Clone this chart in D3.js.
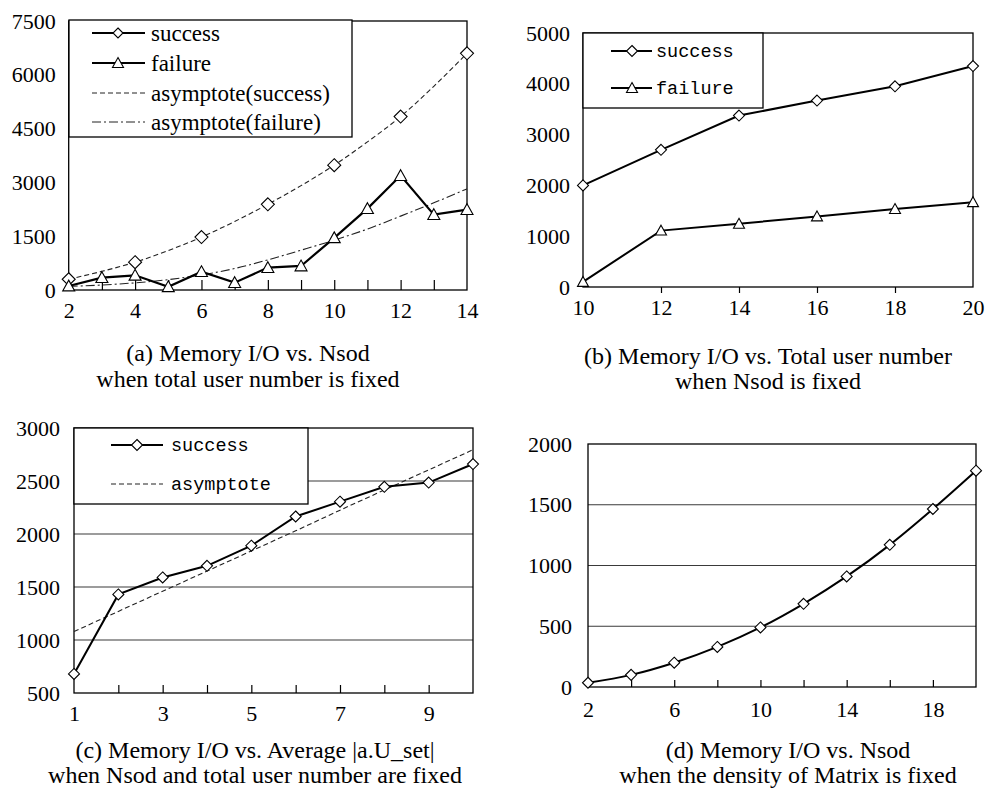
<!DOCTYPE html>
<html><head><meta charset="utf-8">
<script src="https://cdn.jsdelivr.net/npm/d3@7/dist/d3.min.js"></script>
<style>body{margin:0;background:#fff} svg{display:block}</style>
</head><body>
<svg id="chart" width="985" height="793"></svg>
<script>
// ---------- DATA ----------
// (a) Memory I/O vs. Nsod
const aX = [2,3,4,5,6,7,8,9,10,11,12,13,14];
const aSuccessX = [2,4,6,8,10,12,14];
const aSuccess = [300,775,1475,2390,3480,4835,6600];
const aFailure = [110,345,410,90,510,205,625,670,1455,2270,3190,2100,2240];
const aAsymSuccess = [300,520,775,1100,1475,1910,2390,2910,3480,4130,4835,5680,6600];
const aAsymFailure = [100,140,200,290,420,600,840,1110,1390,1700,2060,2430,2820];
const aYTicks = [0,1500,3000,4500,6000,7500];
const aXTickLabels = [2,4,6,8,10,12,14];
const aLegend = ["success","failure","asymptote(success)","asymptote(failure)"];

// (b) Memory I/O vs. Total user number
const bX = [10,12,14,16,18,20];
const bSuccess = [2000,2700,3375,3670,3950,4350];
const bFailure = [100,1110,1245,1390,1535,1670];
const bYTicks = [0,1000,2000,3000,4000,5000];
const bXTickLabels = [10,12,14,16,18,20];
const bLegend = ["success","failure"];

// (c) Memory I/O vs. Average |a.U_set|
const cX = [1,2,3,4,5,6,7,8,9,10];
const cSuccess = [680,1430,1590,1700,1890,2165,2305,2445,2485,2660];
const cAsym = [1080,1270,1460,1650,1840,2030,2225,2415,2605,2795];
const cYTicks = [500,1000,1500,2000,2500,3000];
const cXTickLabels = [1,3,5,7,9];
const cLegend = ["success","asymptote"];

// (d) Memory I/O vs. Nsod (density fixed)
const dX = [2,4,6,8,10,12,14,16,18,20];
const dSuccess = [35,100,200,330,490,685,910,1170,1465,1780];
const dYTicks = [0,500,1000,1500,2000];
const dXTickLabels = [2,6,10,14,18];

const captions = [
  ["(a) Memory I/O vs. Nsod", "when total user number is fixed"],
  ["(b) Memory I/O vs. Total user number", "when Nsod is fixed"],
  ["(c) Memory I/O vs. Average |a.U_set|", "when Nsod and total user number are fixed"],
  ["(d) Memory I/O vs. Nsod", "when the density of Matrix is fixed"]
];

// ---------- DRAW ----------
const svg = d3.select("#chart");
const SERIF = "'Liberation Serif','Times New Roman',serif";
const MONO = "'Liberation Mono','DejaVu Sans Mono',monospace";

function diamondPath(cx, cy, r) {
  return `M${cx},${cy-r}L${cx+r},${cy}L${cx},${cy+r}L${cx-r},${cy}Z`;
}
function trianglePath(cx, cy, w, h) {
  return `M${cx},${cy-h*0.55}L${cx+w/2},${cy+h*0.45}L${cx-w/2},${cy+h*0.45}Z`;
}

function makePanel(cfg) {
  const g = svg.append("g");
  const x = d3.scaleLinear().domain(cfg.xd).range([cfg.l, cfg.r]);
  const y = d3.scaleLinear().domain(cfg.yd).range([cfg.b, cfg.t]);
  if (cfg.grid) {
    g.append("g").selectAll("line").data(cfg.grid).join("line")
      .attr("x1", cfg.l).attr("x2", cfg.r)
      .attr("y1", d => y(d)).attr("y2", d => y(d))
      .attr("stroke", "#3a3a3a").attr("stroke-width", 1.1);
  }
  const ya = d3.axisLeft(y).tickValues(cfg.yTicks).tickSize(0).tickPadding(cfg.yPad).tickFormat(d3.format("d"));
  const yg = g.append("g").attr("transform", `translate(${cfg.l},0)`).call(ya);
  yg.select(".domain").remove();
  yg.selectAll("text").style("font-family", SERIF).style("font-size", cfg.fs + "px").attr("fill", "#000");
  const xa = d3.axisBottom(x).tickValues(cfg.xLabels).tickSize(0).tickPadding(cfg.xPad).tickFormat(d3.format("d"));
  const xg = g.append("g").attr("transform", `translate(0,${cfg.b})`).call(xa);
  xg.select(".domain").remove();
  xg.selectAll("text").style("font-family", SERIF).style("font-size", cfg.fs + "px").attr("fill", "#000");
  const tm = d3.axisBottom(x).tickValues(cfg.tickMarks).tickSize(cfg.tickLen).tickFormat("");
  const tg = g.append("g").attr("transform", `translate(0,${cfg.b})`).call(tm);
  tg.select(".domain").remove();
  tg.selectAll("line").attr("stroke", "#000").attr("stroke-width", 1.2);
  g.append("rect").attr("x", cfg.l).attr("y", cfg.t).attr("width", cfg.r - cfg.l).attr("height", cfg.b - cfg.t)
    .attr("fill", "none").attr("stroke", "#000").attr("stroke-width", 1.3);
  return {g, x, y};
}

function drawLine(p, xs, ys, opts) {
  const line = d3.line().x((d, i) => p.x(xs[i])).y(d => p.y(d)).curve(opts.curve || d3.curveLinear);
  p.g.append("path").datum(ys).attr("d", line).attr("fill", "none")
    .attr("stroke", opts.color || "#000").attr("stroke-width", opts.w || 2)
    .attr("stroke-dasharray", opts.dash || null);
}
function drawMarkers(p, xs, ys, type, size) {
  p.g.append("g").selectAll("path").data(ys).join("path")
    .attr("d", (d, i) => type === "d" ? diamondPath(p.x(xs[i]), p.y(d), size)
                                      : trianglePath(p.x(xs[i]), p.y(d), size * 2, size * 1.8))
    .attr("fill", "#fff").attr("stroke", "#000").attr("stroke-width", 1.1);
}

function legend(items, box, font, fs) {
  const g = svg.append("g");
  g.append("rect").attr("x", box.x).attr("y", box.y).attr("width", box.w).attr("height", box.h)
    .attr("fill", "#fff").attr("stroke", "#000").attr("stroke-width", 1.3);
  items.forEach(it => {
    g.append("line").attr("x1", box.lx1).attr("x2", box.lx2).attr("y1", it.y).attr("y2", it.y)
      .attr("stroke", it.color || "#000").attr("stroke-width", it.w || 2).attr("stroke-dasharray", it.dash || null);
    if (it.m === "d") g.append("path").attr("d", diamondPath(box.mx, it.y, it.ms)).attr("fill", "#fff").attr("stroke", "#000").attr("stroke-width", 1.1);
    if (it.m === "t") g.append("path").attr("d", trianglePath(box.mx, it.y, it.ms * 2, it.ms * 1.8)).attr("fill", "#fff").attr("stroke", "#000").attr("stroke-width", 1.1);
    g.append("text").attr("x", box.tx).attr("y", it.y).attr("dy", "0.35em")
      .style("font-family", font).style("font-size", fs + "px").attr("fill", "#000").text(it.label);
  });
}

// ----- Panel (a)
const pa = makePanel({l: 68.7, r: 467, t: 21, b: 290, xd: [2, 14], yd: [0, 7500],
  yTicks: aYTicks, xLabels: aXTickLabels, tickMarks: aX.slice(1, -1), tickLen: -10,
  yPad: 13, xPad: 12, fs: 22});
drawLine(pa, aX, aAsymSuccess, {w: 1.1, dash: "5,3", curve: d3.curveMonotoneX, color: "#222"});
drawLine(pa, aX, aAsymFailure, {w: 1.1, dash: "9,3,2,3", curve: d3.curveMonotoneX, color: "#222"});
drawLine(pa, aX, aFailure, {w: 2.2});
drawMarkers(pa, aSuccessX, aSuccess, "d", 6.5);
drawMarkers(pa, aX, aFailure, "t", 6);
legend([
  {label: aLegend[0], y: 33, m: "d", ms: 5},
  {label: aLegend[1], y: 63, m: "t", ms: 5.5},
  {label: aLegend[2], y: 93, w: 1, dash: "5,3", color: "#222"},
  {label: aLegend[3], y: 122, w: 1, dash: "9,3,2,3", color: "#222"}
], {x: 69, y: 20, w: 283, h: 117, lx1: 92, lx2: 145, mx: 118, tx: 151}, SERIF, 23);

// ----- Panel (b)
const pb = makePanel({l: 583, r: 973, t: 33, b: 287, xd: [10, 20], yd: [0, 5000],
  yTicks: bYTicks, xLabels: bXTickLabels, tickMarks: bX.slice(1, -1), tickLen: 6,
  yPad: 13, xPad: 12, fs: 22});
drawLine(pb, bX, bSuccess, {w: 2});
drawLine(pb, bX, bFailure, {w: 2});
drawMarkers(pb, bX, bSuccess, "d", 5.5);
drawMarkers(pb, bX, bFailure, "t", 5.5);
legend([
  {label: bLegend[0], y: 51, m: "d", ms: 5.5},
  {label: bLegend[1], y: 88, m: "t", ms: 5.5}
], {x: 583, y: 33, w: 180, h: 75, lx1: 611, lx2: 652, mx: 632, tx: 656}, MONO, 18.5);

// ----- Panel (c)
const pc = makePanel({l: 74, r: 473, t: 428, b: 693, xd: [1, 10], yd: [500, 3000],
  yTicks: cYTicks, xLabels: cXTickLabels, tickMarks: cX.slice(1, -1), tickLen: -8,
  yPad: 14, xPad: 12, fs: 22, grid: [1000, 1500, 2000, 2500]});
drawLine(pc, cX, cAsym, {w: 1.1, dash: "5,3", color: "#222"});
drawLine(pc, cX, cSuccess, {w: 2});
drawMarkers(pc, cX, cSuccess, "d", 5.5);
legend([
  {label: cLegend[0], y: 445, m: "d", ms: 5.5},
  {label: cLegend[1], y: 484, w: 1.1, dash: "5,3", color: "#222"}
], {x: 74, y: 428, w: 234, h: 76, lx1: 111, lx2: 163, mx: 137, tx: 171}, MONO, 18.5);

// ----- Panel (d)
const pd = makePanel({l: 588, r: 976, t: 444, b: 687, xd: [2, 20], yd: [0, 2000],
  yTicks: dYTicks, xLabels: dXTickLabels, tickMarks: dX.slice(1, -1), tickLen: -7,
  yPad: 16, xPad: 14, fs: 22, grid: [500, 1000, 1500]});
drawLine(pd, dX, dSuccess, {w: 2, curve: d3.curveMonotoneX});
drawMarkers(pd, dX, dSuccess, "d", 5.5);

// ----- Captions
const capPos = [
  {x: 248, y1: 361, y2: 387},
  {x: 768, y1: 364, y2: 389},
  {x: 255, y1: 758, y2: 783},
  {x: 788, y1: 758, y2: 783}
];
captions.forEach((c, i) => {
  const t = svg.append("text").attr("text-anchor", "middle")
    .style("font-family", SERIF).style("font-size", "24px").attr("fill", "#000");
  t.append("tspan").attr("x", capPos[i].x).attr("y", capPos[i].y1).text(c[0]);
  t.append("tspan").attr("x", capPos[i].x).attr("y", capPos[i].y2).text(c[1]);
});
</script>
</body></html>
